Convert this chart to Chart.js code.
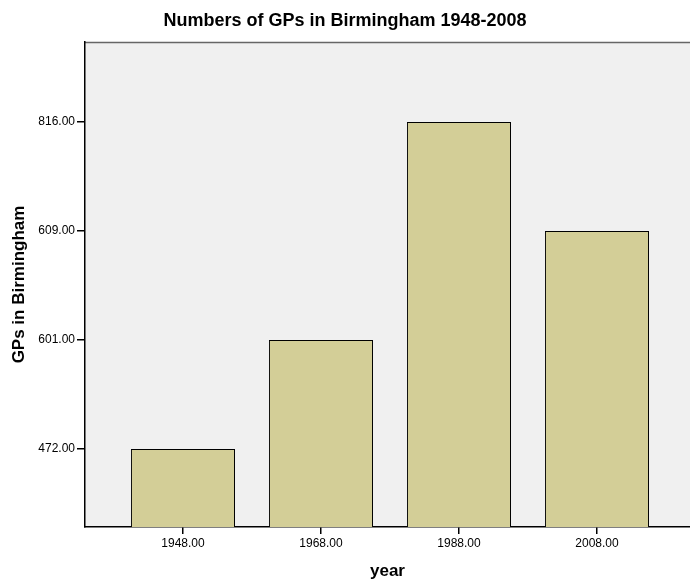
<!DOCTYPE html>
<html>
<head>
<meta charset="utf-8">
<script src="https://cdn.jsdelivr.net/npm/chart.js@4"></script>
<style>
  html, body { margin: 0; padding: 0; background: #fff; }
  #wrap { width: 690px; height: 579px; }
</style>
</head>
<body>
<div id="wrap"><canvas id="gpChart" width="690" height="579"></canvas></div>
<script>
// Dados do gráfico
const years = ['1948.00', '1968.00', '1988.00', '2008.00'];
const gpCounts = [472, 601, 816, 609];
const yTickLabels = ['472.00', '601.00', '609.00', '816.00'];

// O eixo Y do SPSS é categórico: cada valor ocupa um degrau
const sortedCounts = gpCounts.slice().sort((a, b) => a - b);
const Y_MIN = 0.284;
const Y_MAX = 4.734;
const FONT = 'Liberation Sans, Arial, sans-serif';

const plotBackground = {
    id: 'plotBackground',
    beforeDraw(chart) {
        const { ctx, chartArea } = chart;
        ctx.save();
        ctx.fillStyle = '#f0f0f0';
        ctx.fillRect(chartArea.left, chartArea.top, chartArea.right - chartArea.left, chartArea.bottom - chartArea.top);
        ctx.strokeStyle = '#666';
        ctx.lineWidth = 1.5;
        ctx.beginPath();
        ctx.moveTo(chartArea.left, chartArea.top + 0.5);
        ctx.lineTo(chartArea.right, chartArea.top + 0.5);
        ctx.stroke();
        ctx.restore();
    }
};

const ctx = document.getElementById('gpChart').getContext('2d');
new Chart(ctx, {
    type: 'bar',
    data: {
        datasets: [{
            data: gpCounts.map((v, i) => ({ x: i, y: sortedCounts.indexOf(v) + 1 })),
            backgroundColor: '#d3ce97',
            borderColor: '#000',
            borderWidth: 1,
            base: Y_MIN,
            barPercentage: 0.754,
            categoryPercentage: 1
        }]
    },
    plugins: [plotBackground],
    options: {
        responsive: false,
        animation: false,
        layout: { padding: 0 },
        font: { family: FONT },
        plugins: {
            legend: { display: false },
            tooltip: { enabled: false },
            title: {
                display: true,
                text: 'Numbers of GPs in Birmingham 1948-2008',
                color: '#000',
                font: { family: FONT, size: 18, weight: 'bold' },
                padding: { top: 10, bottom: 10.4 }
            }
        },
        scales: {
            x: {
                type: 'linear',
                min: -0.71,
                max: 3.674,
                offset: false,
                afterBuildTicks: (scale) => { scale.ticks = years.map((y, i) => ({ value: i })); },
                afterFit: (scale) => { scale.height = 52; },
                ticks: {
                    color: '#000',
                    padding: 2,
                    font: { family: FONT, size: 12 },
                    callback: (v) => years[v]
                },
                grid: { offset: false, drawOnChartArea: false, drawTicks: true, tickLength: 7, color: '#000', lineWidth: 1.5 },
                border: { display: true, color: '#000', width: 1.5 },
                title: {
                    display: true,
                    text: 'year',
                    color: '#000',
                    font: { family: FONT, size: 17, weight: 'bold', lineHeight: 1 },
                    padding: { top: 4, bottom: -1 }
                }
            },
            y: {
                type: 'linear',
                min: Y_MIN,
                max: Y_MAX,
                afterBuildTicks: (scale) => { scale.ticks = yTickLabels.map((t, i) => ({ value: i + 1 })); },
                afterFit: (scale) => { scale.width = 85; },
                ticks: {
                    color: '#000',
                    padding: 2,
                    font: { family: FONT, size: 12 },
                    callback: (v) => yTickLabels[v - 1]
                },
                grid: { drawOnChartArea: false, drawTicks: true, tickLength: 8, color: '#000', lineWidth: 1.5 },
                border: { display: true, color: '#000', width: 1.5 },
                title: {
                    display: true,
                    text: 'GPs in Birmingham',
                    color: '#000',
                    font: { family: FONT, size: 17, weight: 'bold' },
                    padding: { top: 9, bottom: 0 }
                }
            }
        }
    }
});
</script>
</body>
</html>
